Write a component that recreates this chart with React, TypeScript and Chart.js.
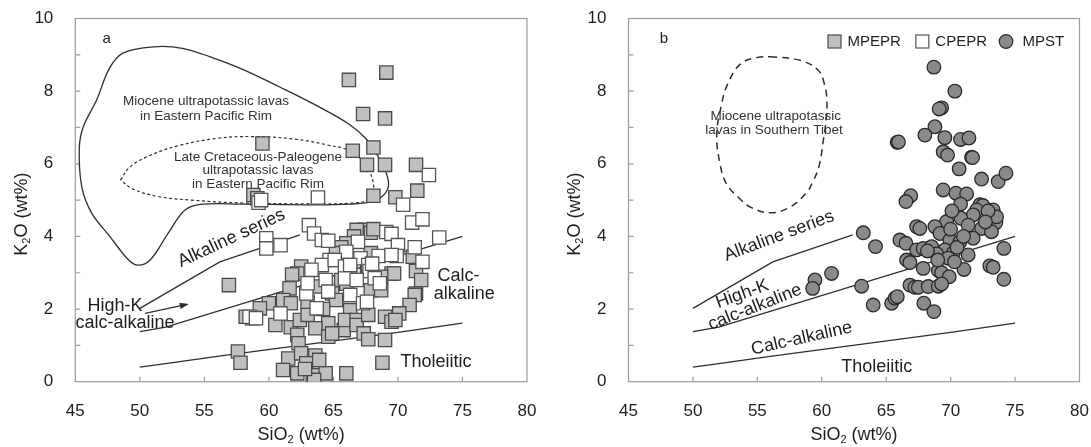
import { useEffect, useRef } from 'react';
import { Chart, registerables } from 'chart.js';

Chart.register(...registerables);

const FONT = '"Liberation Sans", Arial, Helvetica, sans-serif';
const INK = '#1e1e1e';
const NOTE_INK = '#333333';

// ---- axes ----
const X_MIN = 45;
const X_MAX = 80;
const X_STEP = 5;
const Y_MIN = 0;
const Y_MAX = 10;
const Y_STEP = 1;

// ---- panel a: MPEPR (grey squares) ----
const mpeprSiO2 = [
  66.2, 69.1, 67.3, 69.0, 59.5, 66.5, 68.1, 67.6, 69.0, 71.4, 71.5, 68.1, 69.8, 58.8, 59.1, 56.9,
  67.4, 66.8, 66.6, 67.9, 66.0, 65.6, 65.2, 67.9, 66.3, 67.6, 62.5, 62.2, 66.3, 69.5, 69.7, 71.15,
  71.4, 65.6, 63.6, 66.0, 68.7, 71.8, 61.6, 64.9, 67.9, 68.7, 71.4, 71.3, 65.2, 70.9, 60.0, 61.1,
  61.7, 59.3, 66.3, 58.2, 58.7, 60.5, 61.7, 62.4, 63.0, 64.6, 63.6, 65.8, 65.9, 66.8, 66.8, 67.7,
  69.0, 69.5, 70.1, 69.8, 62.2, 62.3, 64.6, 64.9, 67.35, 67.7, 69.0, 57.6, 57.8, 61.5, 62.5, 63.6,
  62.9, 61.1, 62.2, 63.4, 64.4, 66.0, 68.8, 63.5, 62.8, 63.9, 63.0, 64.2, 61.8, 68.1,
];
const mpeprK2O = [
  8.31, 8.51, 7.37, 7.25, 6.56, 6.36, 6.45, 5.97, 5.97, 5.97, 5.26, 5.12, 5.08, 5.14, 5.05, 2.66,
  4.18, 4.18, 4.0, 4.1, 3.81, 3.7, 3.54, 3.54, 3.35, 3.17, 3.17, 2.98, 2.98, 2.98, 2.98, 3.44,
  3.05, 2.8, 2.62, 2.7, 2.89, 2.8, 2.57, 2.43, 2.52, 2.52, 2.43, 2.39, 2.25, 2.11, 2.16, 2.25,
  2.16, 2.02, 1.97, 1.79, 1.75, 1.56, 1.5, 1.7, 1.84, 1.61, 1.47, 1.42, 1.7, 1.7, 1.56, 1.84,
  1.79, 1.65, 1.88, 1.7, 1.29, 1.06, 1.24, 1.33, 1.33, 1.17, 1.15, 0.83, 0.52, 0.64, 0.78, 0.72,
  0.51, 0.32, 0.23, 0.18, 0.23, 0.23, 0.52, 0.05, 0.35, 0.6, 2.2, 2.0, 2.95, 4.2,
];

// ---- panel a: CPEPR (white squares) ----
const cpeprSiO2 = [
  72.4, 70.4, 63.8, 71.1, 71.9, 63.1, 73.2, 59.2, 59.4, 63.5, 64.1, 64.6, 59.8, 59.8, 60.9, 69.1,
  69.5, 70.0, 71.3, 66.9, 67.1, 66.0, 68.5, 67.7, 67.8, 69.9, 71.9, 64.7, 64.1, 63.3, 65.1, 65.9,
  66.3, 62.9, 63.0, 64.4, 64.6, 65.9, 66.8, 66.3, 63.7, 67.3, 67.6, 68.2, 68.6, 68.0, 60.9, 58.5,
  59.0, 69.5,
];
const cpeprK2O = [
  5.69, 4.87, 5.07, 4.38, 4.47, 4.31, 3.97, 4.93, 5.0, 4.08, 3.9, 3.88, 3.95, 3.67, 3.76, 4.12,
  4.07, 3.76, 3.7, 3.85, 3.4, 3.58, 3.46, 3.21, 3.05, 3.46, 3.3, 3.35, 3.21, 3.08, 3.35, 3.17,
  3.21, 2.43, 2.71, 2.8, 2.48, 2.84, 2.8, 2.39, 2.02, 2.16, 2.2, 2.85, 2.71, 3.25, 1.88, 1.79,
  1.75, 3.49,
];

// ---- panel b: MPST (grey circles) ----
const mpstSiO2 = [
  68.7, 70.33, 69.3, 69.11, 68.78, 68.0, 69.55, 70.77, 71.42, 65.85, 65.95, 69.42, 69.76, 71.62,
  71.7, 70.66, 72.4, 73.69, 74.29, 69.42, 70.41, 71.24, 66.9, 66.53, 70.77, 72.27, 72.5, 72.01,
  73.3, 73.51, 73.56, 71.75, 70.8, 69.69, 63.22, 67.36, 67.61, 68.78, 72.4, 73.17, 69.17, 71.36,
  66.06, 66.53, 64.17, 69.94, 71.75, 70.72, 74.13, 67.36, 67.87, 68.52, 69.55, 70.2, 71.36, 68.91,
  66.58, 66.84, 69.81, 67.87, 71.03, 69.04, 69.3, 73.04, 73.3, 69.89, 74.13, 60.76, 59.47, 59.29,
  63.09, 66.84, 67.23, 67.49, 68.26, 69.04, 69.3, 63.99, 65.42, 65.68, 65.86, 67.92, 68.7, 70.0,
  70.5, 69.0, 70.3, 68.2, 71.0, 72.9, 72.7, 70.1,
];
const mpstK2O = [
  8.66, 8.0, 7.54, 7.51, 7.02, 6.79, 6.72, 6.67, 6.71, 6.59, 6.6, 6.33, 6.24, 6.18,
  6.17, 5.86, 5.58, 5.51, 5.74, 5.28, 5.19, 5.17, 5.12, 4.96, 4.89, 4.87, 4.85, 4.73,
  4.73, 4.38, 4.54, 4.59, 4.5, 4.41, 4.1, 4.27, 4.22, 4.27, 4.22, 4.13, 4.08, 4.31,
  3.9, 3.81, 3.72, 3.9, 3.95, 3.85, 3.67, 3.63, 3.67, 3.72, 3.63, 3.54, 3.49, 3.52,
  3.35, 3.28, 3.4, 3.12, 3.09, 3.06, 3.0, 3.19, 3.15, 2.89, 2.82, 2.98, 2.8, 2.57,
  2.63, 2.66, 2.6, 2.6, 2.62, 2.63, 2.69, 2.11, 2.16, 2.3, 2.34, 2.16, 1.93, 4.2,
  3.7, 3.35, 3.3, 3.6, 4.0, 4.7, 4.4, 4.7,
];

// ---- classification boundaries ----
const tholSiO2 = [50, 52, 56, 63, 70, 75];
const tholK2O = [0.4, 0.5, 0.7, 1.03, 1.36, 1.61];
const highKSiO2 = [50, 52, 75];
const highKK2O = [1.38, 1.5, 4.0];
const alkSiO2 = [50, 56.2, 62.4];
const alkK2O = [2.02, 3.3, 4.04];

// ---- field outlines ----
const epMioSiO2 = [
  58.1, 63.6, 66.3, 67.9, 68.75, 69.26, 69.1, 68.4, 67.6, 66.3, 63.6, 60.8, 58.1, 55.4, 53.3,
  51.1, 48.65, 47.6, 46.66, 45.62, 45.31, 45.5, 46.27, 47.7, 49.0, 49.8, 50.8, 52.2, 53.5, 54.9, 58.1,
];
const epMioK2O = [
  4.89, 4.87, 4.89, 4.95, 5.09, 5.37, 5.74, 6.24, 6.66, 7.07, 7.62, 8.12, 8.58, 8.95, 9.18,
  9.22, 9.04, 8.6, 7.76, 7.02, 6.43, 5.37, 4.64, 3.99, 3.4, 3.21, 3.35, 4.09, 4.73, 4.89, 4.89,
];
const epCretSiO2 = [
  48.5, 49.2, 50.6, 53, 56, 58.7, 62, 64.5, 66.3, 67.5, 68.1, 67.9, 66.5, 63, 58, 54, 51.4, 49.5, 48.5,
];
const epCretK2O = [
  5.55, 5.9, 6.2, 6.5, 6.7, 6.75, 6.68, 6.52, 6.35, 5.95, 5.45, 5.05, 4.92, 4.9, 4.92, 5.0, 5.1, 5.3, 5.55,
];
const tibetSiO2 = [
  56, 58.3, 59.7, 60.2, 60.4, 60.3, 60.1, 59.8, 59.3, 58.8, 57.5, 56, 54.5, 53.6, 52.6, 52.1, 51.85,
  52.2, 52.7, 53.7, 55, 56,
];
const tibetK2O = [
  8.95, 8.85, 8.58, 8.2, 7.7, 7.1, 6.6, 5.95, 5.5, 5.2, 4.8, 4.65, 4.8, 5.05, 5.45, 6.0, 6.8,
  7.6, 8.2, 8.75, 8.93, 8.95,
];
const arrowSiO2 = [50.41, 53.64];
const arrowK2O = [1.88, 2.13];

// ---- text labels (anchored in data units) ----
type Note = { text: string; x: number; y: number; size: number; rot?: number; ink?: string };
const notesA: Note[] = [
  { text: 'a', x: 47.43, y: 9.45, size: 15 },
  { text: 'Miocene ultrapotassic lavas', x: 55.13, y: 7.71, size: 13.5, ink: NOTE_INK },
  { text: 'in Eastern Pacific Rim', x: 55.13, y: 7.32, size: 13.5, ink: NOTE_INK },
  { text: 'Late Cretaceous-Paleogene', x: 59.16, y: 6.19, size: 13.5, ink: NOTE_INK },
  { text: 'ultrapotassic lavas', x: 59.16, y: 5.81, size: 13.5, ink: NOTE_INK },
  { text: 'in Eastern Pacific Rim', x: 59.16, y: 5.43, size: 13.5, ink: NOTE_INK },
  { text: 'Alkaline series', x: 57.11, y: 3.95, size: 18, rot: -25 },
  { text: 'High-K', x: 48.08, y: 2.07, size: 18 },
  { text: 'calc-alkaline', x: 48.85, y: 1.62, size: 18 },
  { text: 'Calc-', x: 74.69, y: 2.92, size: 18 },
  { text: 'alkaline', x: 75.13, y: 2.41, size: 18 },
  { text: 'Tholeiitic', x: 72.95, y: 0.53, size: 18 },
];
const notesB: Note[] = [
  { text: 'b', x: 47.75, y: 9.45, size: 15 },
  { text: 'Miocene ultrapotassic', x: 56.43, y: 7.3, size: 13.5, ink: NOTE_INK },
  { text: 'lavas in Southern Tibet', x: 56.29, y: 6.93, size: 13.5, ink: NOTE_INK },
  { text: 'Alkaline series', x: 56.68, y: 4.01, size: 18, rot: -20.5 },
  { text: 'High-K', x: 53.83, y: 2.41, size: 18, rot: -20 },
  { text: 'calc-alkaline', x: 54.81, y: 2.05, size: 18, rot: -21.6 },
  { text: 'Calc-alkaline', x: 58.44, y: 1.19, size: 18, rot: -12.7 },
  { text: 'Tholeiitic', x: 64.26, y: 0.41, size: 18 },
];

// ---- styles ----
const MPEPR_FILL = '#c0c0c0';
const MPEPR_EDGE = '#4a4a4a';
const CPEPR_FILL = '#ffffff';
const CPEPR_EDGE = '#555555';
const MPST_FILL = '#8a8a8a';
const MPST_EDGE = '#2a2a2a';
const LINE_INK = '#2e2e2e';
const FRAME = '#9c9c9c';

const legendItems = [
  { label: 'MPEPR', shape: 'rect', fill: MPEPR_FILL, edge: MPEPR_EDGE },
  { label: 'CPEPR', shape: 'rect', fill: CPEPR_FILL, edge: CPEPR_EDGE },
  { label: 'MPST', shape: 'circle', fill: MPST_FILL, edge: MPST_EDGE },
];

const pts = (xs: number[], ys: number[]) => xs.map((x, i) => ({ x, y: ys[i] }));

function lineSet(xs: number[], ys: number[], extra: any = {}) {
  return {
    type: 'line' as const,
    data: pts(xs, ys),
    showLine: true,
    borderColor: LINE_INK,
    borderWidth: 1.3,
    pointRadius: 0,
    pointHoverRadius: 0,
    fill: false,
    tension: 0,
    order: 5,
    ...extra,
  };
}

function drawTitles(ctx: CanvasRenderingContext2D, ca: any) {
  const big = `18px ${FONT}`;
  const small = `11px ${FONT}`;
  const drawSub = (a: string, b: string, c: string, cx: number, cy: number) => {
    ctx.font = big;
    const wa = ctx.measureText(a).width;
    const wc = ctx.measureText(c).width;
    ctx.font = small;
    const wb = ctx.measureText(b).width;
    let x = cx - (wa + wb + wc) / 2;
    ctx.textAlign = 'left';
    ctx.textBaseline = 'middle';
    ctx.fillStyle = INK;
    ctx.font = big;
    ctx.fillText(a, x, cy);
    x += wa;
    ctx.font = small;
    ctx.fillText(b, x, cy + 5);
    x += wb;
    ctx.font = big;
    ctx.fillText(c, x, cy);
  };
  ctx.save();
  drawSub('SiO', '2', ' (wt%)', (ca.left + ca.right) / 2, ca.bottom + 53);
  ctx.restore();
  ctx.save();
  ctx.translate(ca.left - 53.7, (ca.top + ca.bottom) / 2 + 14);
  ctx.rotate(-Math.PI / 2);
  drawSub('K', '2', 'O (wt%)', 0, 0);
  ctx.restore();
}

function makePlugin(notes: Note[], withLegend: boolean, withArrow: boolean) {
  return {
    id: 'panelDecor',
    beforeDatasetsDraw(chart: any) {
      const { ctx, chartArea: ca, scales } = chart;
      const xs = scales.x;
      const ys = scales.y;
      ctx.save();
      ctx.strokeStyle = FRAME;
      ctx.lineWidth = 1.2;
      ctx.strokeRect(ca.left, ca.top, ca.right - ca.left, ca.bottom - ca.top);
      ctx.beginPath();
      for (const t of xs.ticks) {
        if (t.value <= X_MIN || t.value >= X_MAX) continue;
        const px = xs.getPixelForValue(t.value);
        ctx.moveTo(px, ca.bottom);
        ctx.lineTo(px, ca.bottom - 5);
      }
      for (const t of ys.ticks) {
        if (t.value <= Y_MIN || t.value >= Y_MAX) continue;
        const py = ys.getPixelForValue(t.value);
        ctx.moveTo(ca.left, py);
        ctx.lineTo(ca.left + 5, py);
      }
      ctx.stroke();
      ctx.restore();
    },
    afterDatasetsDraw(chart: any) {
      const { ctx, scales } = chart;
      const xs = scales.x;
      const ys = scales.y;
      ctx.save();
      for (const n of notes) {
        const px = xs.getPixelForValue(n.x);
        const py = ys.getPixelForValue(n.y);
        ctx.save();
        ctx.translate(px, py);
        if (n.rot) ctx.rotate((n.rot * Math.PI) / 180);
        ctx.font = `${n.size}px ${FONT}`;
        ctx.fillStyle = n.ink || INK;
        ctx.textAlign = 'center';
        ctx.textBaseline = 'middle';
        ctx.fillText(n.text, 0, 0);
        ctx.restore();
      }
      if (withArrow) {
        const x0 = xs.getPixelForValue(arrowSiO2[0]);
        const y0 = ys.getPixelForValue(arrowK2O[0]);
        const x1 = xs.getPixelForValue(arrowSiO2[1]);
        const y1 = ys.getPixelForValue(arrowK2O[1]);
        const ang = Math.atan2(y1 - y0, x1 - x0);
        ctx.fillStyle = LINE_INK;
        ctx.beginPath();
        ctx.moveTo(x1 + 2 * Math.cos(ang), y1 + 2 * Math.sin(ang));
        ctx.lineTo(x1 - 7 * Math.cos(ang) + 3.2 * Math.sin(ang), y1 - 7 * Math.sin(ang) - 3.2 * Math.cos(ang));
        ctx.lineTo(x1 - 7 * Math.cos(ang) - 3.2 * Math.sin(ang), y1 - 7 * Math.sin(ang) + 3.2 * Math.cos(ang));
        ctx.closePath();
        ctx.fill();
      }
      ctx.restore();
    },
    afterDraw(chart: any) {
      const { ctx, chartArea: ca } = chart;
      drawTitles(ctx, ca);
      if (withLegend) {
        ctx.save();
        ctx.font = `15px ${FONT}`;
        ctx.textBaseline = 'middle';
        ctx.textAlign = 'left';
        const cy = ca.top + 23;
        let x = ca.left + 199.5;
        legendItems.forEach((it, i) => {
          ctx.fillStyle = it.fill;
          ctx.strokeStyle = it.edge;
          ctx.lineWidth = 1.2;
          if (it.shape === 'rect') {
            ctx.fillRect(x, cy - 6.5, 13, 13);
            ctx.strokeRect(x, cy - 6.5, 13, 13);
            x += 13 + 6.5;
          } else {
            ctx.beginPath();
            ctx.arc(x + 7, cy, 6.8, 0, Math.PI * 2);
            ctx.fill();
            ctx.stroke();
            x += 14 + 9.5;
          }
          ctx.fillStyle = INK;
          ctx.fillText(it.label, x, cy);
          x += ctx.measureText(it.label).width + (i === 0 ? 15 : 12);
        });
        ctx.restore();
      }
    },
  };
}

function baseOptions(padRight: number, axisWidth: number) {
  return {
    animation: false as const,
    responsive: false,
    devicePixelRatio: 1,
    events: [] as any[],
    layout: { padding: { top: 18.5, right: padRight, left: 0, bottom: 0 } },
    plugins: { legend: { display: false }, tooltip: { enabled: false } },
    scales: {
      x: {
        type: 'linear' as const,
        min: X_MIN,
        max: X_MAX,
        grid: { display: false, drawTicks: false },
        border: { display: false },
        ticks: {
          stepSize: X_STEP,
          padding: 19,
          color: INK,
          font: { family: FONT, size: 17 },
          maxRotation: 0,
        },
        afterFit: (s: any) => {
          s.height = 447 - 381.7;
          s.paddingLeft = 0;
          s.paddingRight = 0;
        },
      },
      y: {
        type: 'linear' as const,
        min: Y_MIN,
        max: Y_MAX,
        grid: { display: false, drawTicks: false },
        border: { display: false },
        ticks: {
          stepSize: Y_STEP,
          padding: 22,
          color: INK,
          font: { family: FONT, size: 17 },
          callback: (v: any) => (Number(v) % 2 === 0 ? String(v) : ''),
        },
        afterFit: (s: any) => {
          s.width = axisWidth;
          s.paddingTop = 0;
          s.paddingBottom = 0;
        },
      },
    },
  };
}

export default function App() {
  const refA = useRef<HTMLCanvasElement>(null);
  const refB = useRef<HTMLCanvasElement>(null);

  useEffect(() => {
    const a = new Chart(refA.current!, {
      type: 'scatter',
      data: {
        datasets: [
          {
            label: 'CPEPR',
            data: pts(cpeprSiO2, cpeprK2O),
            pointStyle: 'rect',
            pointRadius: 9.4,
            backgroundColor: CPEPR_FILL,
            borderColor: CPEPR_EDGE,
            borderWidth: 1.3,
            order: 1,
          },
          {
            label: 'MPEPR',
            data: pts(mpeprSiO2, mpeprK2O),
            pointStyle: 'rect',
            pointRadius: 9.4,
            backgroundColor: MPEPR_FILL,
            borderColor: MPEPR_EDGE,
            borderWidth: 1.3,
            order: 2,
          },
          lineSet(tholSiO2, tholK2O),
          lineSet(highKSiO2, highKK2O),
          lineSet(alkSiO2, alkK2O),
          lineSet(epMioSiO2, epMioK2O, { tension: 0.35 }),
          lineSet(epCretSiO2, epCretK2O, { tension: 0.4, borderDash: [3, 2.5], borderWidth: 1.2 }),
          lineSet(arrowSiO2, arrowK2O, { borderWidth: 1.2 }),
        ] as any,
      },
      options: baseOptions(18, 75.3) as any,
      plugins: [makePlugin(notesA, false, true)],
    });

    const b = new Chart(refB.current!, {
      type: 'scatter',
      data: {
        datasets: [
          {
            label: 'MPST',
            data: pts(mpstSiO2, mpstK2O),
            pointStyle: 'circle',
            pointRadius: 6.8,
            backgroundColor: MPST_FILL,
            borderColor: MPST_EDGE,
            borderWidth: 1.3,
            order: 1,
          },
          lineSet(tholSiO2, tholK2O),
          lineSet(highKSiO2, highKK2O),
          lineSet(alkSiO2, alkK2O),
          lineSet(tibetSiO2, tibetK2O, { tension: 0.4, borderDash: [7, 5], borderWidth: 1.5 }),
        ] as any,
      },
      options: baseOptions(11.5, 83.5) as any,
      plugins: [makePlugin(notesB, true, false)],
    });

    return () => {
      a.destroy();
      b.destroy();
    };
  }, []);

  return (
    <div
      style={{
        position: 'absolute',
        left: 0,
        top: 0,
        width: 1091,
        height: 447,
        background: '#fff',
        display: 'flex',
      }}
    >
      <canvas ref={refA} width={545} height={447} style={{ display: 'block' }} />
      <canvas ref={refB} width={546} height={447} style={{ display: 'block' }} />
    </div>
  );
}
